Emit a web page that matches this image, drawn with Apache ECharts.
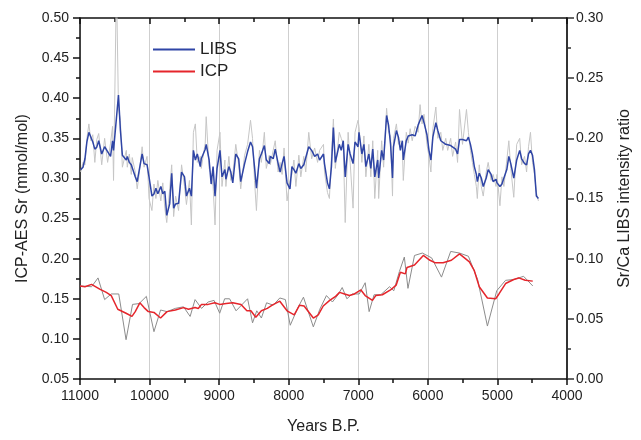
<!DOCTYPE html>
<html><head><meta charset="utf-8">
<script src="https://cdn.jsdelivr.net/npm/echarts@6/dist/echarts.min.js"></script>
<style>html,body{margin:0;padding:0;background:#fff}#c{width:641px;height:440px}</style>
</head><body><div id="c"></div>
<script>
// LIBS (right axis, Sr/Ca intensity ratio)
const libsYears = [10990,10957,10929,10901,10872,10844,10816,10787,10759,10731,10688,10646,10603,10561,10532,10518,10476,10447,10419,10391,10334,10320,10291,10263,10249,10206,10178,10150,10107,10079,10036,10008,9966,9937,9909,9881,9838,9810,9781,9753,9711,9682,9654,9626,9583,9540,9498,9470,9427,9399,9370,9342,9314,9271,9257,9200,9186,9144,9115,9087,9059,9030,8988,8959,8917,8903,8860,8832,8804,8761,8719,8690,8634,8591,8549,8520,8492,8464,8421,8393,8350,8322,8279,8265,8223,8194,8152,8124,8095,8067,8024,7982,7954,7925,7897,7854,7826,7783,7755,7712,7670,7627,7585,7556,7500,7486,7443,7415,7386,7358,7330,7273,7245,7216,7188,7146,7117,7075,7047,7004,6990,6948,6919,6891,6848,6820,6792,6763,6721,6707,6664,6636,6593,6565,6536,6508,6494,6452,6423,6395,6367,6353,6310,6282,6254,6225,6183,6140,6112,6083,6055,6013,5984,5956,5928,5885,5857,5814,5786,5743,5715,5672,5644,5601,5573,5545,5502,5445,5417,5388,5360,5332,5303,5289,5261,5232,5204,5161,5133,5091,5062,5020,5006,4964,4935,4907,4865,4836,4808,4765,4723,4680,4652,4610,4581,4553,4525,4496,4468,4440,4411];
const libsSmooth = [0.174,0.176,0.183,0.197,0.205,0.2065,0.197,0.191,0.1927,0.198,0.187,0.193,0.189,0.185,0.198,0.190,0.217,0.236,0.2065,0.186,0.182,0.185,0.180,0.178,0.179,0.168,0.164,0.164,0.187,0.179,0.178,0.168,0.152,0.1537,0.1585,0.154,0.160,0.154,0.156,0.136,0.1455,0.171,0.142,0.1455,0.146,0.172,0.168,0.152,0.1585,0.152,0.190,0.182,0.187,0.1765,0.183,0.191,0.195,0.182,0.162,0.1765,0.152,0.175,0.190,0.168,0.174,0.166,0.1765,0.172,0.163,0.187,0.183,0.164,0.179,0.189,0.197,0.193,0.1765,0.1585,0.183,0.187,0.194,0.182,0.179,0.185,0.183,0.191,0.179,0.172,0.179,0.185,0.163,0.158,0.1765,0.174,0.171,0.179,0.175,0.178,0.179,0.193,0.190,0.185,0.187,0.182,0.187,0.179,0.163,0.158,0.1765,0.209,0.180,0.195,0.190,0.198,0.168,0.195,0.187,0.179,0.197,0.193,0.205,0.187,0.195,0.1765,0.187,0.175,0.191,0.168,0.182,0.167,0.190,0.182,0.219,0.211,0.195,0.167,0.193,0.2065,0.201,0.190,0.198,0.182,0.198,0.202,0.201,0.203,0.202,0.211,0.215,0.219,0.213,0.203,0.190,0.182,0.201,0.213,0.2065,0.198,0.197,0.195,0.195,0.194,0.193,0.191,0.187,0.199,0.199,0.198,0.201,0.195,0.187,0.1765,0.170,0.164,0.171,0.167,0.160,0.167,0.174,0.170,0.164,0.166,0.163,0.160,0.162,0.167,0.174,0.185,0.179,0.167,0.182,0.190,0.183,0.179,0.178,0.187,0.190,0.186,0.174,0.152,0.150];
const libsRaw = [0.172,0.180,0.178,0.200,0.212,0.198,0.203,0.180,0.199,0.204,0.178,0.200,0.180,0.196,0.210,0.165,0.330,0.225,0.215,0.176,0.190,0.176,0.187,0.170,0.184,0.172,0.158,0.170,0.193,0.176,0.185,0.150,0.140,0.162,0.150,0.165,0.148,0.163,0.142,0.130,0.158,0.178,0.135,0.152,0.140,0.178,0.160,0.145,0.165,0.128,0.205,0.212,0.180,0.185,0.175,0.196,0.218,0.175,0.170,0.160,0.128,0.190,0.205,0.160,0.182,0.160,0.185,0.165,0.170,0.195,0.178,0.158,0.186,0.195,0.215,0.200,0.165,0.140,0.190,0.180,0.205,0.175,0.186,0.178,0.190,0.198,0.172,0.180,0.170,0.192,0.148,0.165,0.170,0.182,0.160,0.186,0.168,0.185,0.172,0.205,0.183,0.192,0.180,0.190,0.195,0.172,0.155,0.150,0.185,0.216,0.175,0.205,0.200,0.195,0.130,0.205,0.180,0.142,0.205,0.215,0.210,0.180,0.202,0.168,0.195,0.168,0.198,0.150,0.190,0.150,0.198,0.176,0.225,0.205,0.202,0.152,0.200,0.212,0.195,0.198,0.192,0.165,0.205,0.196,0.208,0.198,0.210,0.205,0.228,0.212,0.220,0.195,0.185,0.172,0.208,0.226,0.200,0.205,0.190,0.200,0.190,0.200,0.185,0.197,0.180,0.224,0.195,0.224,0.205,0.190,0.180,0.170,0.160,0.150,0.178,0.160,0.152,0.172,0.180,0.165,0.170,0.160,0.170,0.144,0.168,0.160,0.182,0.198,0.175,0.151,0.195,0.200,0.178,0.185,0.172,0.193,0.205,0.180,0.170,0.155,0.148];
// ICP (left axis, mmol/mol)
const icpSmoothYears = [11000,10929,10834,10717,10622,10551,10457,10338,10253,10206,10140,10079,10018,9937,9842,9749,9630,9512,9441,9346,9300,9253,9158,9063,8992,8899,8804,8686,8601,8544,8473,8393,8308,8237,8128,8024,7921,7844,7779,7646,7575,7504,7411,7326,7269,7198,7127,7056,6962,6901,6796,6749,6654,6537,6456,6395,6324,6300,6192,6065,5970,5899,5781,5662,5545,5403,5332,5261,5144,5025,4978,4883,4765,4694,4600,4492];
const icpSmooth = [0.166,0.165,0.168,0.162,0.158,0.154,0.137,0.132,0.128,0.134,0.145,0.139,0.134,0.133,0.126,0.134,0.136,0.139,0.137,0.139,0.138,0.143,0.143,0.145,0.143,0.144,0.145,0.143,0.135,0.135,0.127,0.135,0.138,0.142,0.147,0.135,0.130,0.142,0.141,0.126,0.130,0.141,0.148,0.153,0.158,0.156,0.154,0.156,0.161,0.154,0.148,0.154,0.155,0.161,0.167,0.183,0.181,0.189,0.192,0.204,0.198,0.195,0.195,0.198,0.206,0.196,0.185,0.165,0.151,0.150,0.156,0.169,0.174,0.176,0.173,0.172];
const icpRawYears = [11000,10834,10741,10646,10551,10443,10338,10245,10150,10046,9937,9842,9749,9630,9512,9417,9346,9253,9158,9073,8992,8921,8850,8757,8591,8520,8459,8393,8318,8223,8128,8048,7978,7873,7788,7646,7553,7458,7372,7292,7231,7164,7089,6986,6901,6844,6773,6678,6551,6490,6409,6338,6286,6192,6079,5946,5804,5672,5545,5417,5285,5144,5010,4883,4765,4624,4492];
const icpRaw = [0.166,0.165,0.176,0.149,0.156,0.156,0.099,0.143,0.144,0.153,0.109,0.136,0.134,0.138,0.140,0.128,0.149,0.138,0.146,0.148,0.132,0.150,0.150,0.135,0.150,0.120,0.135,0.126,0.145,0.142,0.151,0.149,0.117,0.138,0.152,0.115,0.137,0.154,0.146,0.155,0.164,0.150,0.156,0.156,0.170,0.134,0.155,0.155,0.165,0.160,0.184,0.202,0.163,0.204,0.207,0.201,0.177,0.209,0.207,0.203,0.174,0.116,0.160,0.173,0.174,0.178,0.166];
const xTicks = [11000,10000,9000,8000,7000,6000,5000,4000];

const zip = (xs, ys) => xs.map((x, i) => [x, ys[i]]);
const FONT = 'Liberation Sans, Arial, sans-serif';
const TXT = '#222';
const BLUE = '#2f45a6', RED = '#e5252b';
const chart = echarts.init(document.getElementById('c'), null, {renderer: 'canvas'});
const xCommon = {
  type: 'value', min: 4000, max: 11000, interval: 1000, inverse: true
};
chart.setOption({
  animation: false,
  backgroundColor: '#fff',
  grid: {left: 80, right: 67, top: 18, bottom: 53, containLabel: false},
  legend: {
    orient: 'vertical', left: 148, top: 36, itemWidth: 42, itemHeight: 2, itemGap: 5,
    icon: 'rect',
    data: ['LIBS', 'ICP'],
    textStyle: {fontFamily: FONT, fontSize: 17, color: TXT, padding: [0, 0, 0, 0]}
  },
  xAxis: [
    Object.assign({}, xCommon, {
      position: 'bottom',
      name: 'Years B.P.', nameLocation: 'middle', nameGap: 40,
      nameTextStyle: {fontFamily: FONT, fontSize: 16, color: TXT},
      axisLine: {show: true, lineStyle: {color: '#111', width: 1.5}},
      axisTick: {show: true, inside: false, length: 6, lineStyle: {color: '#111', width: 1.5}},
      minorTick: {show: true, splitNumber: 2, length: 4, lineStyle: {color: '#111', width: 1.5}},
      axisLabel: {fontFamily: FONT, fontSize: 14, color: TXT, margin: 10,
        formatter: v => xTicks.includes(v) ? String(v) : ''},
      splitLine: {show: true, lineStyle: {color: '#cfcfcf', width: 1}}
    }),
    Object.assign({}, xCommon, {
      position: 'top',
      axisLine: {show: true, lineStyle: {color: '#111', width: 1.5}},
      axisTick: {show: true, inside: true, length: 6, lineStyle: {color: '#111', width: 1.5}},
      minorTick: {show: true, splitNumber: 2, length: 4, lineStyle: {color: '#111', width: 1.5}},
      axisLabel: {show: false},
      splitLine: {show: false}
    })
  ],
  yAxis: [
    {
      type: 'value', min: 0.05, max: 0.50, interval: 0.05, position: 'left',
      name: 'ICP-AES Sr (mmol/mol)', nameLocation: 'middle', nameGap: 41, nameRotate: 90,
      nameTextStyle: {fontFamily: FONT, fontSize: 16, color: TXT},
      axisLine: {show: true, lineStyle: {color: '#111', width: 1.5}},
      axisTick: {show: true, inside: false, length: 7, lineStyle: {color: '#111', width: 1.5}},
      minorTick: {show: true, splitNumber: 2, length: 4, lineStyle: {color: '#111', width: 1.5}},
      axisLabel: {fontFamily: FONT, fontSize: 14, color: TXT, margin: 11, formatter: v => v.toFixed(2)},
      splitLine: {show: false}
    },
    {
      type: 'value', min: 0, max: 0.30, interval: 0.05, position: 'right',
      name: 'Sr/Ca LIBS intensity ratio', nameLocation: 'middle', nameGap: 50, nameRotate: 90,
      nameTextStyle: {fontFamily: FONT, fontSize: 16, color: TXT},
      axisLine: {show: true, lineStyle: {color: '#333', width: 2}},
      axisTick: {show: true, inside: false, length: 7, lineStyle: {color: '#333', width: 1.5}},
      minorTick: {show: true, splitNumber: 2, length: 4, lineStyle: {color: '#333', width: 1.5}},
      axisLabel: {fontFamily: FONT, fontSize: 14, color: TXT, margin: 9, formatter: v => v.toFixed(2)},
      splitLine: {show: false}
    }
  ],
  series: [
    {name: 'LIBS raw', type: 'line', xAxisIndex: 0, yAxisIndex: 1, data: zip(libsYears, libsRaw),
      symbol: 'none', clip: true, lineStyle: {color: '#c6c6c6', width: 1}, itemStyle: {color: '#c6c6c6'}, z: 1},
    {name: 'ICP raw', type: 'line', xAxisIndex: 0, yAxisIndex: 0, data: zip(icpRawYears, icpRaw),
      symbol: 'none', clip: true, lineStyle: {color: '#8c8c8c', width: 1}, itemStyle: {color: '#8c8c8c'}, z: 2},
    {name: 'LIBS', type: 'line', xAxisIndex: 0, yAxisIndex: 1, data: zip(libsYears, libsSmooth),
      symbol: 'none', clip: true, lineStyle: {color: BLUE, width: 1.5}, itemStyle: {color: BLUE}, z: 3},
    {name: 'ICP', type: 'line', xAxisIndex: 0, yAxisIndex: 0, data: zip(icpSmoothYears, icpSmooth),
      symbol: 'none', clip: true, lineStyle: {color: RED, width: 1.5}, itemStyle: {color: RED}, z: 4}
  ]
});
</script>
</body></html>
